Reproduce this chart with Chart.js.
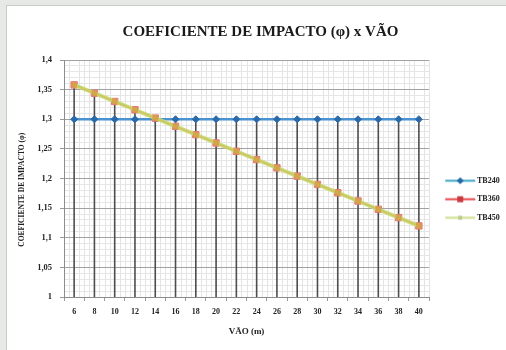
<!DOCTYPE html>
<html>
<head>
<meta charset="utf-8">
<script src="https://cdn.jsdelivr.net/npm/chart.js@4"></script>
<style>
  html, body { margin: 0; padding: 0; }
  body { width: 506px; height: 350px; background: #e7e9e7; position: relative; overflow: hidden; }
  #frame {
    position: absolute; left: 6px; top: 5px; width: 499px; height: 344px;
    background: #ffffff; border-left: 1px solid #c9cbc9; border-top: 1px solid #c9cbc9;
  }
  #wrap { position: absolute; left: 0; top: 0; width: 499px; height: 344px; }
</style>
</head>
<body>
<div id="frame"><div id="wrap"><canvas id="c"></canvas></div></div>
<script>
// Vão (m)
const vaos = ['6','8','10','12','14','16','18','20','22','24','26','28','30','32','34','36','38','40'];
// Coeficiente de impacto por trem-tipo
const tb240 = [1.30,1.30,1.30,1.30,1.30,1.30,1.30,1.30,1.30,1.30,1.30,1.30,1.30,1.30,1.30,1.30,1.30,1.30];
const tb360 = [1.358,1.344,1.330,1.316,1.302,1.288,1.274,1.260,1.246,1.232,1.218,1.204,1.190,1.176,1.162,1.148,1.134,1.120];
const tb450 = [1.358,1.344,1.330,1.316,1.302,1.288,1.274,1.260,1.246,1.232,1.218,1.204,1.190,1.176,1.162,1.148,1.134,1.120];
const seriesNames = ['TB240', 'TB360', 'TB450'];
const yMin = 1, yMax = 1.4;

const SERIF = "'Liberation Serif', 'Times New Roman', serif";

// legend swatch: line with the series marker in the middle
function swatch(lineColor, lineWidth, markerColor, shape) {
  const c = document.createElement('canvas');
  c.width = 40; c.height = 9;
  const g = c.getContext('2d');
  g.strokeStyle = lineColor; g.lineWidth = lineWidth;
  g.beginPath(); g.moveTo(9, 4.5); g.lineTo(39, 4.5); g.stroke();
  g.fillStyle = markerColor;
  const m = 24;
  if (shape === 'diamond') {
    g.beginPath(); g.moveTo(m, 1); g.lineTo(m + 3.5, 4.5); g.lineTo(m, 8); g.lineTo(m - 3.5, 4.5); g.closePath(); g.fill();
  } else if (shape === 'square') {
    g.fillRect(m - 3, 1.5, 6, 6);
  } else {
    g.fillRect(m - 2, 2.5, 4, 4);
  }
  return c;
}
const swatches = [
  swatch('#3fa6c4', 2, '#2468a8', 'diamond'),
  swatch('#e8474b', 2, '#c83a3e', 'square'),
  swatch('#d8e4a4', 2.5, '#bccb8a', 'small')
];

// light secondary grid across the plot
const minorGrid = {
  id: 'minorGrid',
  beforeDraw(chart) {
    const {ctx, chartArea: {top, bottom}, scales: {x}} = chart;
    const step = x.getPixelForValue(1) - x.getPixelForValue(0);
    ctx.save();
    ctx.strokeStyle = '#e4e4e4';
    ctx.lineWidth = 1;
    for (let i = 0; i < vaos.length; i++) {
      const cx = x.getPixelForValue(i);
      for (const f of [-0.5, -0.25, 0.25, 0.5]) {
        const px = Math.round(cx + f * step) + 0.5;
        ctx.beginPath(); ctx.moveTo(px, top); ctx.lineTo(px, bottom); ctx.stroke();
      }
    }
    ctx.restore();
  }
};

// drop lines from the highest series value down to the category axis
const dropLines = {
  id: 'dropLines',
  beforeDatasetsDraw(chart) {
    const {ctx, scales: {x, y}} = chart;
    const base = y.getPixelForValue(yMin);
    ctx.save();
    ctx.strokeStyle = '#4d4d4d';
    ctx.lineWidth = 1.6;
    for (let i = 0; i < vaos.length; i++) {
      const top = Math.max(tb240[i], tb360[i], tb450[i]);
      const px = x.getPixelForValue(i);
      ctx.beginPath(); ctx.moveTo(px, y.getPixelForValue(top)); ctx.lineTo(px, base); ctx.stroke();
    }
    ctx.restore();
  }
};

const isMajor = v => Math.abs(Math.round(v * 100) % 5) === 0;

new Chart(document.getElementById('c'), {
  type: 'line',
  data: {
    labels: vaos,
    datasets: [
      {
        label: seriesNames[0], data: tb240, order: 2,
        borderColor: '#4a93d2', borderWidth: 2.5,
        pointStyle: 'rectRot', pointRadius: 3.5,
        pointBackgroundColor: '#2b6aaa', pointBorderColor: '#2b6aaa', pointBorderWidth: 1
      },
      {
        label: seriesNames[1], data: tb360, order: 1,
        borderColor: '#e85d5d', borderWidth: 2,
        pointStyle: 'rect', pointRadius: 4.5,
        pointBackgroundColor: '#ef8a8a', pointBorderColor: '#e77474', pointBorderWidth: 1
      },
      {
        label: seriesNames[2], data: tb450, order: 0,
        borderColor: 'rgba(200,218,105,0.85)', borderWidth: 4,
        pointStyle: 'rect', pointRadius: 3.3,
        pointBackgroundColor: 'rgba(212,158,72,0.85)', pointBorderColor: 'rgba(212,158,72,0.85)', pointBorderWidth: 1
      }
    ]
  },
  options: {
    responsive: true,
    maintainAspectRatio: false,
    animation: false,
    layout: { padding: { left: 8, right: 0, top: 0, bottom: 8.6 } },
    plugins: {
      title: {
        display: true,
        text: 'COEFICIENTE DE IMPACTO (φ) x VÃO',
        color: '#1a1a1a',
        font: { family: SERIF, size: 15, weight: 'bold' },
        padding: { top: 17.5, bottom: 18.5 }
      },
      legend: {
        position: 'right',
        maxWidth: 77,
        title: { display: true, text: ' ', font: { size: 6 }, padding: { top: 0, bottom: 43.8 } },
        labels: {
          usePointStyle: true,
          pointStyleWidth: 33.5,
          padding: 10.5,
          color: '#222',
          font: { family: SERIF, size: 8, weight: 'bold' },
          generateLabels(chart) {
            return chart.data.datasets.map((ds, i) => ({
              text: ds.label,
              pointStyle: swatches[i],
              fillStyle: 'transparent',
              strokeStyle: 'transparent',
              lineWidth: 0,
              fontColor: '#222',
              hidden: false,
              datasetIndex: i
            }));
          }
        }
      },
      tooltip: { enabled: false }
    },
    scales: {
      x: {
        offset: true,
        afterFit(s) { s.height = 44.4; },
        grid: { display: true, drawOnChartArea: false, drawTicks: true, tickLength: 4, tickColor: '#9a9a9a', offset: true },
        border: { display: true, color: '#8c8c8c' },
        ticks: { color: '#222', padding: 6.2, maxRotation: 0, autoSkip: false, font: { family: SERIF, size: 8, weight: 'bold' } },
        title: { display: true, text: 'VÃO (m)', color: '#222', padding: { top: 0, bottom: 4 }, font: { family: SERIF, size: 9, weight: 'bold' } }
      },
      y: {
        min: yMin, max: yMax,
        afterFit(s) { s.width = 49; },
        grid: {
          color: ctx => isMajor(ctx.tick.value) ? '#a2a2a2' : '#e6e6e6',
          tickColor: ctx => isMajor(ctx.tick.value) ? '#9a9a9a' : 'rgba(0,0,0,0)',
          tickLength: 4,
          lineWidth: 1
        },
        border: { display: true, color: '#8c8c8c' },
        ticks: {
          stepSize: 0.01,
          autoSkip: false,
          padding: 8,
          color: '#222',
          font: { family: SERIF, size: 8.5, weight: 'bold' },
          callback: v => isMajor(v) ? String(Math.round(v * 100) / 100).replace('.', ',') : ''
        },
        title: {
          display: true,
          // trailing non-breaking spaces set the title a little below the axis middle
          text: 'COEFICIENTE DE IMPACTO (φ)' + '\u00a0'.repeat(12),
          color: '#222', padding: { top: 3, bottom: 0 },
          font: { family: SERIF, size: 7.5, weight: 'bold' }
        }
      }
    }
  },
  plugins: [minorGrid, dropLines]
});
</script>
</body>
</html>
